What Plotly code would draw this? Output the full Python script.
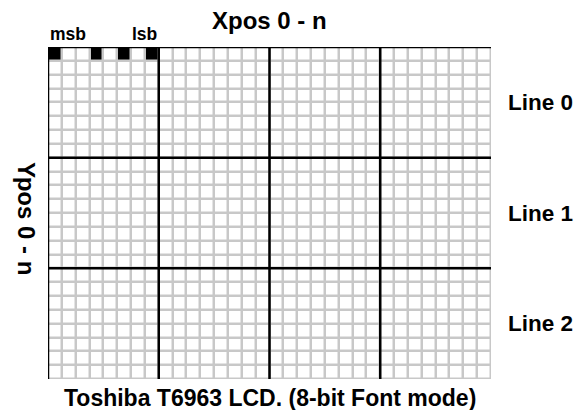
import plotly.graph_objects as go

# ---- data ----
chars_per_row = 4          # character cells across
lines = 3                  # text lines down
bits_per_char = 8          # 8-bit font mode
font_byte_bits = [1, 0, 0, 1, 0, 1, 0, 1]   # first byte of first char, msb -> lsb
line_labels = ["Line 0", "Line 1", "Line 2"]
x_title = "Xpos 0 - n"
y_title = "Ypos 0 - n"
bottom_title = "Toshiba T6963 LCD. (8-bit Font mode)"

n_cols = chars_per_row * bits_per_char
n_rows = lines * bits_per_char

z = [[0] * n_cols for _ in range(n_rows)]
for i, b in enumerate(font_byte_bits):
    z[0][i] = b

fig = go.Figure()
fig.add_trace(go.Heatmap(
    z=z, x=list(range(n_cols)), y=list(range(n_rows)),
    colorscale=[[0, "white"], [1, "black"]], zmin=0, zmax=1,
    xgap=2.5, ygap=2.5, showscale=False, hoverinfo="skip"))

shapes = []
# left border & top border
shapes.append(dict(type="line", xref="x", yref="y", x0=-0.5, x1=-0.5, y0=-0.5, y1=n_rows - 0.5))
shapes.append(dict(type="line", xref="x", yref="y", x0=-0.5, x1=n_cols - 0.5, y0=-0.5, y1=-0.5))
for c in range(1, chars_per_row):
    xv = c * bits_per_char - 0.5
    shapes.append(dict(type="line", xref="x", yref="y", x0=xv, x1=xv, y0=-0.5, y1=n_rows - 0.5))
for r in range(1, lines):
    yv = r * bits_per_char - 0.5
    shapes.append(dict(type="line", xref="x", yref="y", x0=-0.5, x1=n_cols - 0.5, y0=yv, y1=yv))
for s in shapes:
    s["line"] = dict(color="black", width=2.5)
    s["layer"] = "above"

FONT = "Liberation Sans, Arial, sans-serif"
big = dict(family=FONT, size=24, color="black", weight="bold")
bottom = dict(family=FONT, size=23, color="black", weight="bold")
side = dict(family=FONT, size=22.5, color="black", weight="bold")
small = dict(family=FONT, size=17.5, color="black", weight="bold")

ann = []
ann.append(dict(text=x_title, xref="paper", yref="paper", x=0.5, y=1.08,
                xanchor="center", yanchor="middle", showarrow=False, font=big))
ann.append(dict(text=bottom_title, xref="paper", yref="paper", x=0.5, y=-0.057,
                xanchor="center", yanchor="middle", showarrow=False, font=bottom))
ann.append(dict(text=y_title, xref="paper", yref="paper", x=-0.0497, y=0.482,
                xanchor="center", yanchor="middle", textangle=90, showarrow=False, font=big))
ann.append(dict(text="msb", xref="x", yref="paper", x=-0.5, y=1.0377,
                xanchor="left", yanchor="middle", showarrow=False, font=small))
ann.append(dict(text="lsb", xref="x", yref="paper", x=bits_per_char - 0.5, y=1.0377,
                xanchor="right", yanchor="middle", showarrow=False, font=small))
for i, lab in enumerate(line_labels):
    ann.append(dict(text=lab, xref="paper", yref="y", x=1,
                    y=i * bits_per_char + (bits_per_char - 1) / 2,
                    xanchor="left", yanchor="middle", xshift=15, showarrow=False, font=side))

# page is rendered with an 8px body margin, so the figure is offset by 8px
fig.update_layout(
    width=574, height=402,
    margin=dict(l=40, r=91, t=39, b=31),
    paper_bgcolor="white", plot_bgcolor="#c8c8c8",
    shapes=shapes, annotations=ann,
    xaxis=dict(visible=False, range=[-0.5, n_cols - 0.5], fixedrange=True),
    yaxis=dict(visible=False, range=[n_rows - 0.5, -0.5], fixedrange=True),
    showlegend=False,
)
fig.write_html("out.html")
